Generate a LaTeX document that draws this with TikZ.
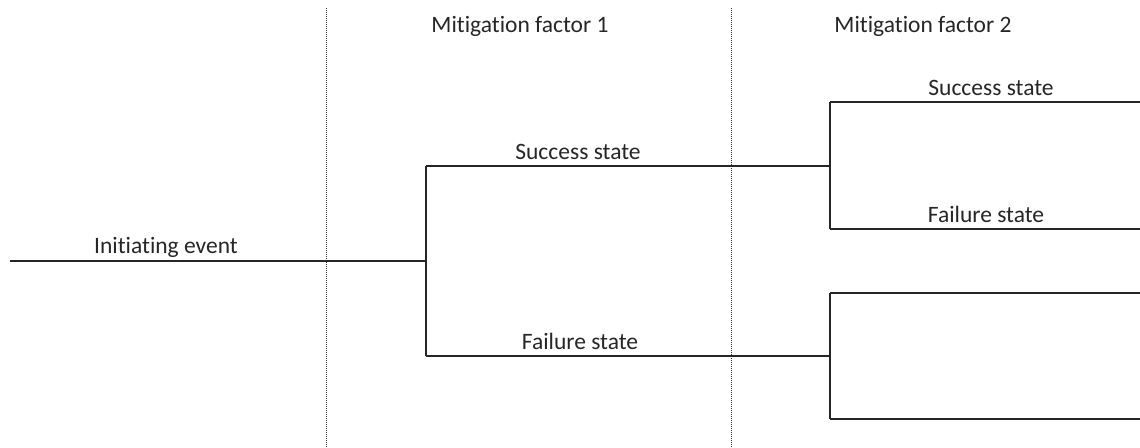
\documentclass[tikz,border=0pt]{standalone}
\usepackage{fontspec}
\setmainfont[RawFeature={-liga;-dlig}]{Carlito}
\begin{document}
\begin{tikzpicture}[x=1pt,y=-1pt,
  branch/.style={draw=black!85, line width=1.2pt},
  divider/.style={draw=black!80, line width=0.9pt, dash pattern=on 1pt off 1pt},
  lbl/.style={anchor=base, inner sep=0pt, font=\fontsize{23.5}{28}\selectfont, text=black!85}]
\useasboundingbox (0,0) rectangle (1140,447);
% column dividers
\coordinate (d1t) at (326,8);   \coordinate (d1b) at (326,447);
\coordinate (d2t) at (731,8);   \coordinate (d2b) at (731,447);
\draw[divider] (d1t) -- (d1b);
\draw[divider] (d2t) -- (d2b);
% column headings
\node[lbl] (h1) at (520,32) {Mitigation factor 1};
\node[lbl] (h2) at (923,32) {Mitigation factor 2};
% tree points
\coordinate (start) at (10,261);
\coordinate (n1) at (426,261);
\coordinate (s1) at (426,166);
\coordinate (f1) at (426,356);
\coordinate (s2) at (830,166);
\coordinate (f2) at (830,356);
\coordinate (ss) at (830,102);
\coordinate (sf) at (830,229);
\coordinate (fs) at (830,293);
\coordinate (ff) at (830,419);
\coordinate (ssE) at (1140,102);
\coordinate (sfE) at (1140,229);
\coordinate (fsE) at (1140,293);
\coordinate (ffE) at (1140,419);
% branches
\draw[branch] (start) -- (n1);
\draw[branch] (s1) -- (f1);
\draw[branch] (s1) -- (s2);
\draw[branch] (f1) -- (f2);
\draw[branch] (ss) -- (sf);
\draw[branch] (fs) -- (ff);
\draw[branch] (ss) -- (ssE);
\draw[branch] (sf) -- (sfE);
\draw[branch] (fs) -- (fsE);
\draw[branch] (ff) -- (ffE);
% branch labels
\node[lbl] (ie) at (166,253) {Initiating event};
\node[lbl] (l1s) at (578,159) {Success state};
\node[lbl] (l1f) at (580,349) {Failure state};
\node[lbl] (l2s) at (991,95) {Success state};
\node[lbl] (l2f) at (986,222) {Failure state};
\end{tikzpicture}
\end{document}
